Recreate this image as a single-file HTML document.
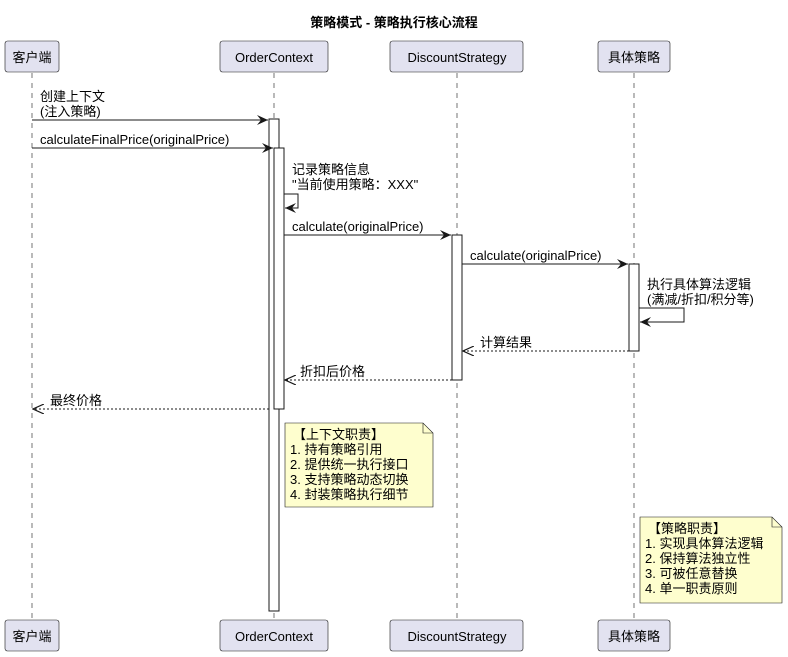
<!DOCTYPE html>
<html><head><meta charset="utf-8"><style>
html,body{margin:0;padding:0;background:#fff;}
svg text{font-family:"Liberation Sans","Noto Sans CJK SC",sans-serif;font-size:13px;fill:#000;}
</style></head><body>
<svg width="788" height="652" viewBox="0 0 788 652" xmlns="http://www.w3.org/2000/svg">
<defs>
<marker id="a" markerWidth="12" markerHeight="10" refX="11" refY="5" orient="auto" markerUnits="userSpaceOnUse"><path d="M0,0 L11,5 L0,10 L4,5 Z" fill="#181818"/></marker>
<marker id="o" markerWidth="12" markerHeight="10" refX="11" refY="5" orient="auto" markerUnits="userSpaceOnUse"><path d="M0,0 L11,5 L0,10" fill="none" stroke="#181818" stroke-width="1.2"/></marker>
</defs>
<text x="394" y="27" text-anchor="middle" style="font-weight:bold">策略模式 - 策略执行核心流程</text>
<g stroke="#181818" stroke-width="0.6" stroke-dasharray="5,5">
<line x1="32" y1="73" x2="32" y2="620"/><line x1="274" y1="73" x2="274" y2="620"/>
<line x1="457" y1="73" x2="457" y2="620"/><line x1="634" y1="73" x2="634" y2="620"/>
</g>
<g fill="#e2e2f0" stroke="#181818" stroke-width="0.6">
<rect x="5" y="41" width="54" height="31" rx="2.5"/><rect x="220" y="41" width="108" height="31" rx="2.5"/>
<rect x="390" y="41" width="133" height="31" rx="2.5"/><rect x="598" y="41" width="72" height="31" rx="2.5"/>
<rect x="5" y="620" width="54" height="31" rx="2.5"/><rect x="220" y="620" width="108" height="31" rx="2.5"/>
<rect x="390" y="620" width="133" height="31" rx="2.5"/><rect x="598" y="620" width="72" height="31" rx="2.5"/>
</g>
<g text-anchor="middle" style="font-size:14px">
<text x="32" y="62">客户端</text><text x="274" y="62">OrderContext</text><text x="457" y="62">DiscountStrategy</text><text x="634" y="62">具体策略</text>
<text x="32" y="641">客户端</text><text x="274" y="641">OrderContext</text><text x="457" y="641">DiscountStrategy</text><text x="634" y="641">具体策略</text>
</g>
<g fill="#fff" stroke="#181818" stroke-width="1">
<rect x="269" y="119" width="10" height="492"/>
<rect x="274" y="148" width="10" height="261"/>
<rect x="452" y="235" width="10" height="145"/>
<rect x="629" y="264" width="10" height="87"/>
</g>
<g stroke="#181818" stroke-width="1" fill="none">
<line x1="32" y1="120" x2="268" y2="120" marker-end="url(#a)"/>
<line x1="32" y1="148" x2="273" y2="148" marker-end="url(#a)"/>
<polyline points="284,194 298,194 298,208 285,208" marker-end="url(#a)"/>
<line x1="284" y1="235" x2="451" y2="235" marker-end="url(#a)"/>
<line x1="462" y1="264" x2="628" y2="264" marker-end="url(#a)"/>
<polyline points="639,308 684,308 684,322 640,322" marker-end="url(#a)"/>
<line x1="629" y1="351" x2="463" y2="351" stroke-dasharray="2,2" marker-end="url(#o)"/>
<line x1="452" y1="380" x2="285" y2="380" stroke-dasharray="2,2" marker-end="url(#o)"/>
<line x1="269" y1="409" x2="33" y2="409" stroke-dasharray="2,2" marker-end="url(#o)"/>
</g>
<text x="40" y="101">创建上下文</text><text x="40" y="116">(注入策略)</text>
<text x="40" y="144">calculateFinalPrice(originalPrice)</text>
<text x="292" y="174">记录策略信息</text><text x="292" y="189">"当前使用策略：XXX"</text>
<text x="292" y="231">calculate(originalPrice)</text>
<text x="470" y="260">calculate(originalPrice)</text>
<text x="647" y="289">执行具体算法逻辑</text><text x="647" y="304">(满减/折扣/积分等)</text>
<text x="480" y="347">计算结果</text>
<text x="300" y="376">折扣后价格</text>
<text x="50" y="405">最终价格</text>
<g fill="#fefece" stroke="#181818" stroke-width="0.6">
<path d="M285,423 L423,423 L433,433 L433,507 L285,507 Z"/><path d="M423,423 L423,433 L433,433" fill="none"/>
<path d="M640,517 L772,517 L782,527 L782,603 L640,603 Z"/><path d="M772,517 L772,527 L782,527" fill="none"/>
</g>
<g style="font-size:12.5px">
<text x="293" y="439">【上下文职责】</text><text x="290" y="454">1. 持有策略引用</text><text x="290" y="469">2. 提供统一执行接口</text><text x="290" y="484">3. 支持策略动态切换</text><text x="290" y="499">4. 封装策略执行细节</text>
<text x="648" y="533">【策略职责】</text><text x="645" y="548">1. 实现具体算法逻辑</text><text x="645" y="563">2. 保持算法独立性</text><text x="645" y="578">3. 可被任意替换</text><text x="645" y="593">4. 单一职责原则</text>
</g>
</svg>
</body></html>
